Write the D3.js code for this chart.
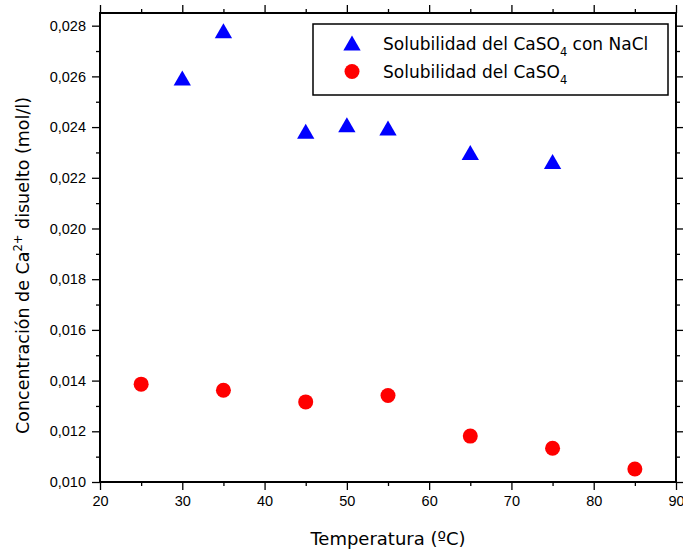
<!DOCTYPE html>
<html>
<head>
<meta charset="utf-8">
<script src="https://cdn.jsdelivr.net/npm/d3@7"></script>
<style>
  body { margin: 0; background: #fff; }
  svg { font-family: "DejaVu Sans", Verdana, sans-serif; }
</style>
</head>
<body>
<svg id="chart" width="683" height="549"></svg>
<script>
// temperatures (ºC) and Ca2+ concentration (mol/l)
const tempNaCl = [30, 35, 45, 50, 55, 65, 75];
const concNaCl = [0.02594, 0.02780, 0.02384, 0.02409, 0.02396, 0.02300, 0.02264];
const tempPure = [25, 35, 45, 55, 65, 75, 85];
const concPure = [0.01386, 0.01362, 0.01316, 0.01341, 0.01181, 0.01133, 0.01051];

const xTicks = [20, 30, 40, 50, 60, 70, 80, 90];
const yTicks = [0.010, 0.012, 0.014, 0.016, 0.018, 0.020, 0.022, 0.024, 0.026, 0.028];

const svg = d3.select('#chart');
const margin = { top: 13, right: 7, bottom: 67, left: 100 };
const width = 683 - margin.left - margin.right;
const height = 549 - margin.top - margin.bottom;

const x = d3.scaleLinear().domain([20, 90]).range([0, width]);
const y = d3.scaleLinear().domain([0.010, 0.0285]).range([height, 0]);

const fmt = (d) => d3.format('.3f')(d).replace('.', ',');

const g = svg.append('g')
  .attr('transform', `translate(${margin.left},${margin.top})`);

// minor tick values
const xMinor = d3.range(25, 90, 10);
const yMinor = d3.range(0.011, 0.0285, 0.002);

function styleAxis(sel) {
  sel.select('.domain').remove();
  sel.selectAll('line').attr('stroke', '#000').attr('stroke-width', 1.3);
  sel.selectAll('text').attr('fill', '#000').style('font-size', '14.5px');
}

// bottom
g.append('g').attr('transform', `translate(0,${height})`)
  .call(d3.axisBottom(x).tickValues(xTicks).tickSize(8).tickPadding(6).tickFormat(d3.format('d')))
  .call(styleAxis);
g.append('g').attr('transform', `translate(0,${height})`)
  .call(d3.axisBottom(x).tickValues(xMinor).tickSize(4).tickFormat(''))
  .call(styleAxis);
// top
g.append('g')
  .call(d3.axisTop(x).tickValues(xTicks).tickSize(8).tickFormat(''))
  .call(styleAxis);
g.append('g')
  .call(d3.axisTop(x).tickValues(xMinor).tickSize(4).tickFormat(''))
  .call(styleAxis);
// left
g.append('g')
  .call(d3.axisLeft(y).tickValues(yTicks).tickSize(8).tickPadding(6).tickFormat(fmt))
  .call(styleAxis);
g.append('g')
  .call(d3.axisLeft(y).tickValues(yMinor).tickSize(4).tickFormat(''))
  .call(styleAxis);
// right
g.append('g').attr('transform', `translate(${width},0)`)
  .call(d3.axisRight(y).tickValues(yTicks).tickSize(8).tickFormat(''))
  .call(styleAxis);
g.append('g').attr('transform', `translate(${width},0)`)
  .call(d3.axisRight(y).tickValues(yMinor).tickSize(4).tickFormat(''))
  .call(styleAxis);

// frame
g.append('rect')
  .attr('width', width).attr('height', height)
  .attr('fill', 'none').attr('stroke', '#000').attr('stroke-width', 2);

// markers
const tri = d3.symbol().type(d3.symbolTriangle).size(130);

g.selectAll('.tri')
  .data(tempNaCl.map((t, i) => [t, concNaCl[i]]))
  .join('path')
  .attr('class', 'tri')
  .attr('d', tri)
  .attr('transform', (d) => `translate(${x(d[0])},${y(d[1]) + 2.5})`)
  .attr('fill', '#0000ff');

g.selectAll('.dot')
  .data(tempPure.map((t, i) => [t, concPure[i]]))
  .join('circle')
  .attr('class', 'dot')
  .attr('cx', (d) => x(d[0]))
  .attr('cy', (d) => y(d[1]))
  .attr('r', 7.5)
  .attr('fill', '#ff0000');

// legend
const leg = svg.append('g').attr('transform', 'translate(313,24)');
leg.append('rect')
  .attr('width', 355).attr('height', 71)
  .attr('fill', '#fff').attr('stroke', '#000').attr('stroke-width', 1.5);
leg.append('path').attr('d', tri)
  .attr('transform', 'translate(39,21.5)').attr('fill', '#0000ff');
leg.append('circle').attr('cx', 39).attr('cy', 47.5).attr('r', 7.5).attr('fill', '#ff0000');

const legendRows = [
  { y: 26, pre: 'Solubilidad del CaSO', post: ' con NaCl' },
  { y: 54, pre: 'Solubilidad del CaSO', post: '' }
];
legendRows.forEach((r) => {
  const t = leg.append('text').attr('x', 70).attr('y', r.y)
    .style('font-size', '17px').attr('fill', '#000');
  t.append('tspan').text(r.pre);
  t.append('tspan').attr('dy', 6).style('font-size', '11.5px').text('4');
  t.append('tspan').attr('dy', -6).text(r.post);
});

// axis titles
svg.append('text')
  .attr('x', margin.left + width / 2).attr('y', 545)
  .attr('text-anchor', 'middle').style('font-size', '18px')
  .text('Temperatura (ºC)');

const yt = svg.append('text')
  .attr('transform', `translate(29,${margin.top + height / 2 + 18}) rotate(-90)`)
  .attr('text-anchor', 'middle').style('font-size', '17.5px');
yt.append('tspan').text('Concentración de Ca');
yt.append('tspan').attr('dy', -7).style('font-size', '11.5px').text('2+');
yt.append('tspan').attr('dy', 7).text(' disuelto (mol/l)');
</script>
</body>
</html>
